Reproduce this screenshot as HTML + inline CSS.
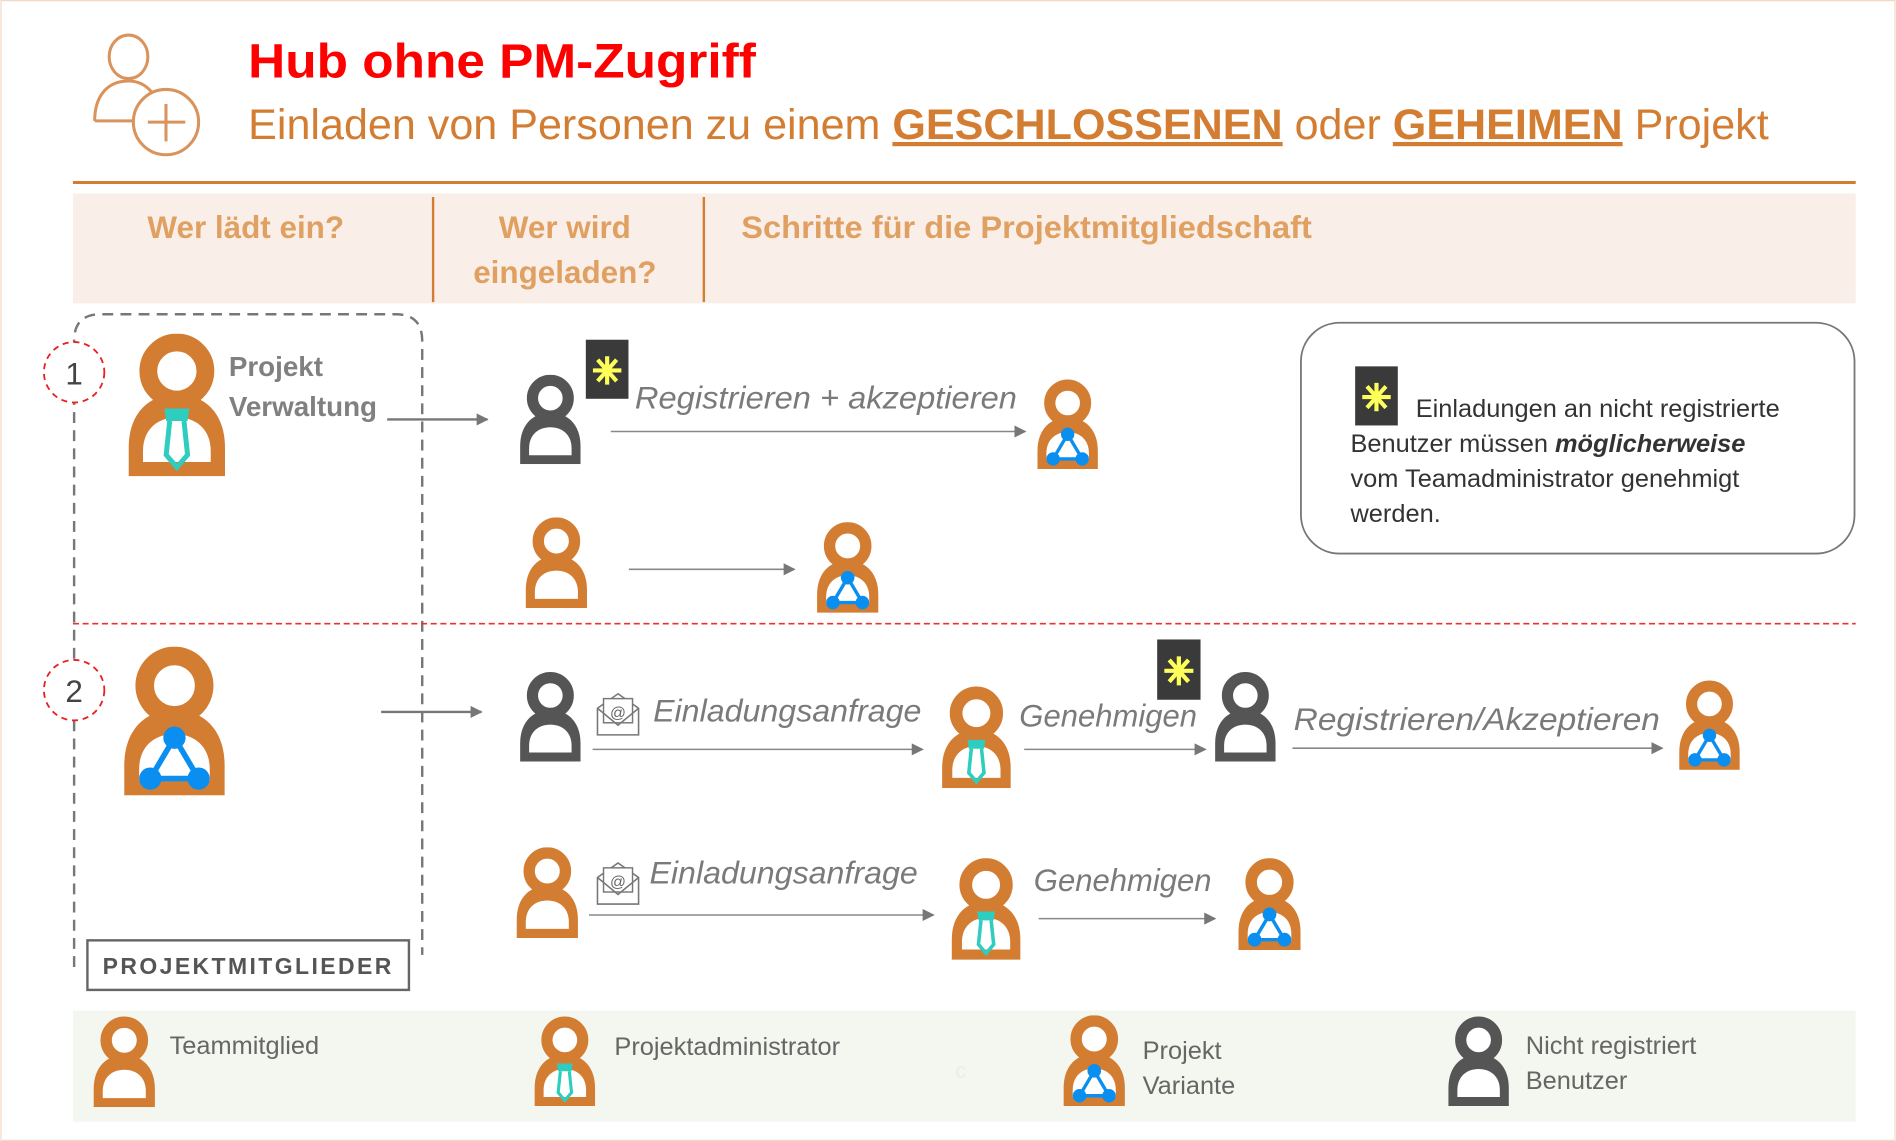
<!DOCTYPE html>
<html><head><meta charset="utf-8"><style>
html,body{margin:0;padding:0;background:#fff;}
svg{display:block;}
text{font-family:"Liberation Sans",sans-serif;}
.hw{font-style:italic;fill:#7a7a7a;font-size:26px;}
.hd{fill:#e0a062;font-weight:bold;font-size:26px;}
.lg{fill:#666;font-size:21px;}
.nt{fill:#333;font-size:21px;}
</style></head><body>
<svg width="1896" height="1141" viewBox="0 0 1568 944" xmlns="http://www.w3.org/2000/svg">
<defs>
<symbol id="pO" viewBox="0 0 60 80">
 <path d="M3,80 V64 C3,44 15,34 30,34 C45,34 57,44 57,64 V80 Z" fill="#d37d32"/>
 <path d="M11,72 V66 C11,53 20,47 30,47 C40,47 49,53 49,66 V72 Z" fill="#fff"/>
 <circle cx="30" cy="21" r="16" fill="#fff" stroke="#d37d32" stroke-width="10"/>
</symbol>
<symbol id="pG" viewBox="0 0 60 80">
 <path d="M3,80 V64 C3,44 15,34 30,34 C45,34 57,44 57,64 V80 Z" fill="#555"/>
 <path d="M11,72 V66 C11,53 20,47 30,47 C40,47 49,53 49,66 V72 Z" fill="#fff"/>
 <circle cx="30" cy="21" r="16" fill="#fff" stroke="#555" stroke-width="10"/>
</symbol>
<symbol id="pT" viewBox="0 0 60 80">
 <use href="#pO" width="60" height="80"/>
 <path d="M23,42 H37 L36,49 H24 Z" fill="#2ecdc0"/>
 <path d="M26,49 L24,68 L30,75 L36,68 L34,49" fill="none" stroke="#2ecdc0" stroke-width="2.8"/>
</symbol>
<symbol id="pV" viewBox="0 0 60 80">
 <use href="#pO" width="60" height="80"/>
 <path d="M30,49 L17,71 H43 Z" fill="none" stroke="#0a8ff0" stroke-width="3"/>
 <circle cx="30" cy="49" r="6" fill="#0a8ff0"/>
 <circle cx="17" cy="71" r="6" fill="#0a8ff0"/>
 <circle cx="43" cy="71" r="6" fill="#0a8ff0"/>
</symbol>
<symbol id="ast" viewBox="0 0 36 50">
 <rect width="36" height="50" fill="#3a3a3a"/>
 <g stroke="#ffff5a" stroke-width="3.5"><line x1="18" y1="14" x2="18" y2="38"/><line x1="6" y1="26" x2="30" y2="26"/><line x1="10" y1="17" x2="26" y2="35"/><line x1="26" y1="17" x2="10" y2="35"/></g>
</symbol>
<symbol id="env" viewBox="0 0 38 38">
 <path d="M2,14 L19,2 L36,14 V36 H2 Z" fill="#fff" stroke="#777" stroke-width="1.3"/>
 <rect x="7" y="6" width="24" height="20" fill="#fff" stroke="#777" stroke-width="1.2"/>
 <path d="M2,14 L19,28 L36,14" fill="none" stroke="#777" stroke-width="1.3"/>
 <text x="19" y="22" font-size="13" text-anchor="middle" fill="#666">@</text>
</symbol>
<marker id="ar" viewBox="0 0 10 10" refX="9" refY="5" markerWidth="10" markerHeight="10" markerUnits="userSpaceOnUse" orient="auto"><path d="M0,0 L10,5 L0,10 Z" fill="#777"/></marker>
</defs>
<rect x="0.5" y="0.5" width="1567" height="943" fill="#fff" stroke="#f3d9c4"/>

<g fill="none" stroke="#d9935c" stroke-width="2.5">
 <ellipse cx="106" cy="47" rx="16" ry="18"/>
 <path d="M78,100 C78,80 88,67 106,67 C114,67 120,70 125,76"/>
 <line x1="78" y1="100" x2="115" y2="100"/>
 <ellipse cx="137" cy="101" rx="27" ry="27" fill="#fff"/>
 <line x1="137" y1="86" x2="137" y2="117"/><line x1="122" y1="101" x2="153" y2="101"/>
</g>
<text x="205" y="64" font-size="40" font-weight="bold" fill="#ff0000" textLength="420" lengthAdjust="spacingAndGlyphs">Hub ohne PM-Zugriff</text>
<text x="205" y="115" font-size="35" fill="#d37d32" textLength="1258" lengthAdjust="spacingAndGlyphs">Einladen von Personen zu einem <tspan font-weight="bold" text-decoration="underline">GESCHLOSSENEN</tspan> oder <tspan font-weight="bold" text-decoration="underline">GEHEIMEN</tspan> Projekt</text>
<line x1="60" y1="151" x2="1535" y2="151" stroke="#d37d32" stroke-width="2.5"/>

<rect x="60" y="160" width="1475" height="91" fill="#f9efe8"/>
<line x1="358" y1="163" x2="358" y2="250" stroke="#d37d32" stroke-width="2"/>
<line x1="582" y1="163" x2="582" y2="250" stroke="#d37d32" stroke-width="2"/>
<text class="hd" x="203" y="197" text-anchor="middle">Wer lädt ein?</text>
<text class="hd" x="467" y="197" text-anchor="middle">Wer wird</text>
<text class="hd" x="467" y="234" text-anchor="middle">eingeladen?</text>
<text class="hd" x="613" y="197" textLength="472" lengthAdjust="spacingAndGlyphs">Schritte für die Projektmitgliedschaft</text>

<path d="M61,800 V282 Q61,260 83,260 H327 Q349,260 349,282 V790" fill="none" stroke="#777" stroke-width="2" stroke-dasharray="9,6"/>
<line x1="60" y1="516" x2="1535" y2="516" stroke="#f03030" stroke-width="1.3" stroke-dasharray="5,3"/>
<circle cx="61" cy="308" r="25" fill="#fff" stroke="#e82020" stroke-width="1.5" stroke-dasharray="5,4"/>
<text x="61" y="318" font-size="26" text-anchor="middle" fill="#444">1</text>
<circle cx="61" cy="571" r="25" fill="#fff" stroke="#e82020" stroke-width="1.5" stroke-dasharray="5,4"/>
<text x="61" y="581" font-size="26" text-anchor="middle" fill="#444">2</text>

<use href="#pT" x="100" y="276" width="92" height="118"/>
<text x="189" y="311" font-size="23" font-weight="bold" fill="#808080">Projekt</text>
<text x="189" y="344" font-size="23" font-weight="bold" fill="#808080">Verwaltung</text>
<line x1="320" y1="347" x2="403" y2="347" stroke="#777" stroke-width="2" marker-end="url(#ar)"/>
<use href="#pG" x="427" y="310" width="56" height="74"/>
<use href="#ast" x="484" y="281" width="36" height="49"/>
<text class="hw" x="525" y="338" textLength="316" lengthAdjust="spacingAndGlyphs">Registrieren + akzeptieren</text>
<line x1="505" y1="357" x2="848" y2="357" stroke="#888" stroke-width="1.3" marker-end="url(#ar)"/>
<use href="#pV" x="854" y="314" width="58" height="74"/>

<use href="#pO" x="431" y="428" width="58" height="75"/>
<line x1="520" y1="471" x2="657" y2="471" stroke="#888" stroke-width="1.3" marker-end="url(#ar)"/>
<use href="#pV" x="672" y="432" width="58" height="75"/>

<rect x="1076" y="267" width="458" height="191" rx="32" fill="#fff" stroke="#777" stroke-width="1.5"/>
<use href="#ast" x="1120" y="303" width="37" height="49"/>
<text class="nt" x="1171" y="345">Einladungen an nicht registrierte</text>
<text class="nt" x="1117" y="374">Benutzer müssen <tspan font-weight="bold" font-style="italic">möglicherweise</tspan></text>
<text class="nt" x="1117" y="403">vom Teamadministrator genehmigt</text>
<text class="nt" x="1117" y="432">werden.</text>

<use href="#pV" x="97" y="535" width="94" height="123"/>
<line x1="315" y1="589" x2="398" y2="589" stroke="#777" stroke-width="2" marker-end="url(#ar)"/>
<use href="#pG" x="427" y="556" width="56" height="74"/>
<use href="#env" x="492" y="572" width="38" height="38"/>
<text class="hw" x="540" y="597" textLength="222" lengthAdjust="spacingAndGlyphs">Einladungsanfrage</text>
<line x1="490" y1="620" x2="763" y2="620" stroke="#888" stroke-width="1.3" marker-end="url(#ar)"/>
<use href="#pT" x="776" y="568" width="63" height="84"/>
<text class="hw" x="843" y="601" textLength="147" lengthAdjust="spacingAndGlyphs">Genehmigen</text>
<line x1="847" y1="620" x2="997" y2="620" stroke="#888" stroke-width="1.3" marker-end="url(#ar)"/>
<use href="#ast" x="957" y="529" width="36" height="50"/>
<use href="#pG" x="1002" y="556" width="56" height="74"/>
<text class="hw" x="1070" y="604" textLength="303" lengthAdjust="spacingAndGlyphs">Registrieren/Akzeptieren</text>
<line x1="1069" y1="619" x2="1375" y2="619" stroke="#888" stroke-width="1.3" marker-end="url(#ar)"/>
<use href="#pV" x="1386" y="563" width="56" height="74"/>

<use href="#pO" x="424" y="701" width="57" height="75"/>
<use href="#env" x="492" y="712" width="38" height="38"/>
<text class="hw" x="537" y="731" textLength="222" lengthAdjust="spacingAndGlyphs">Einladungsanfrage</text>
<line x1="487" y1="757" x2="772" y2="757" stroke="#888" stroke-width="1.3" marker-end="url(#ar)"/>
<use href="#pT" x="784" y="710" width="63" height="84"/>
<text class="hw" x="855" y="737" textLength="147" lengthAdjust="spacingAndGlyphs">Genehmigen</text>
<line x1="859" y1="760" x2="1005" y2="760" stroke="#888" stroke-width="1.3" marker-end="url(#ar)"/>
<use href="#pV" x="1021" y="710" width="58" height="76"/>

<rect x="72" y="778" width="266" height="41" fill="#fff" stroke="#666" stroke-width="2"/>
<text x="205" y="806" font-size="19" font-weight="bold" fill="#555" text-anchor="middle" letter-spacing="2">PROJEKTMITGLIEDER</text>

<rect x="60" y="836" width="1475" height="92" fill="#f3f7ef"/>
<use href="#pO" x="74" y="841" width="57" height="75"/>
<text class="lg" x="140" y="872">Teammitglied</text>
<use href="#pT" x="439" y="841" width="56" height="74"/>
<text class="lg" x="508" y="873">Projektadministrator</text>
<text x="790" y="892" font-size="18" fill="#e8eee0">c</text>
<use href="#pV" x="876" y="840" width="58" height="75"/>
<text class="lg" x="945" y="876">Projekt</text>
<text class="lg" x="945" y="905">Variante</text>
<use href="#pG" x="1195" y="841" width="56" height="74"/>
<text class="lg" x="1262" y="872">Nicht registriert</text>
<text class="lg" x="1262" y="901">Benutzer</text>
</svg>
</body></html>
